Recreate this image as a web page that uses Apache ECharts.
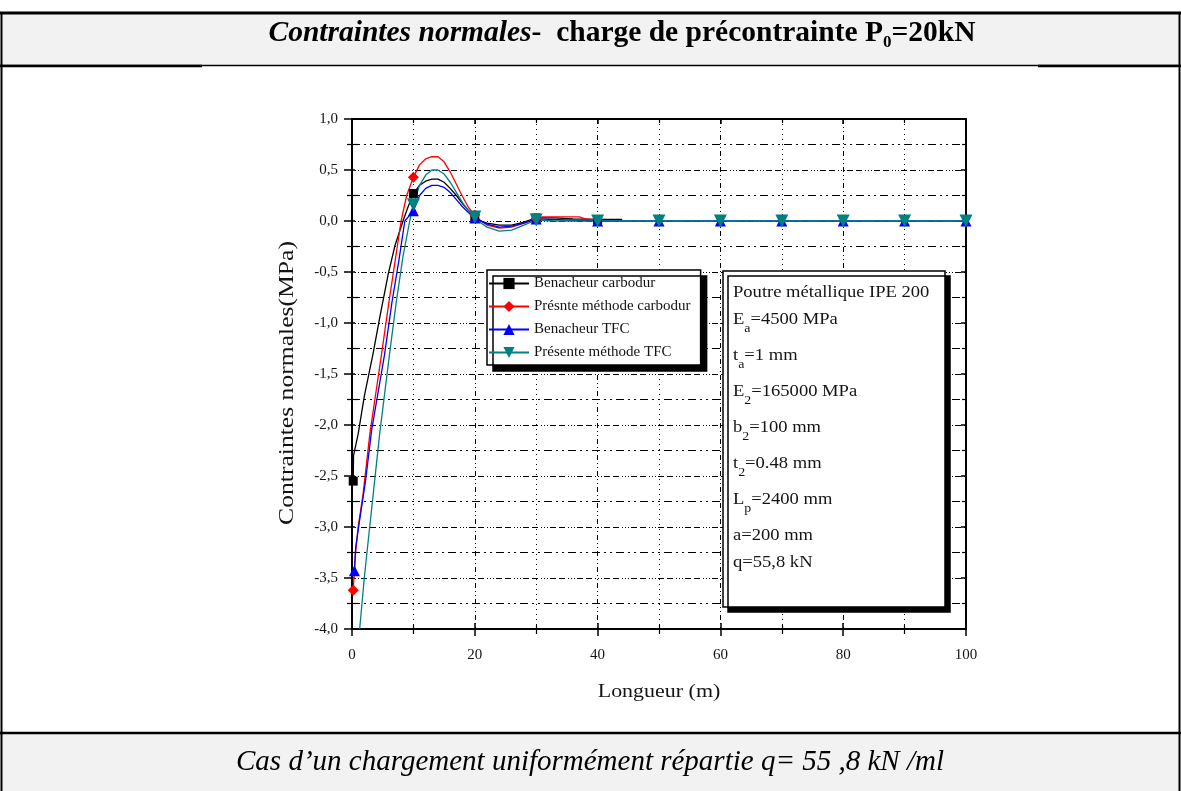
<!DOCTYPE html>
<html>
<head>
<meta charset="utf-8">
<script src="https://cdn.jsdelivr.net/npm/echarts@6.0.0/dist/echarts.min.js"></script>
<style>
  html, body { margin: 0; padding: 0; background: #fff; }
  #main { width: 1181px; height: 791px; }
</style>
</head>
<body>
<div id="main"></div>
<script>
// ---- data ----
const seriesNames = ['Benacheur carbodur', 'Présnte méthode carbodur', 'Benacheur TFC', 'Présente méthode TFC'];

// Benacheur carbodur
const blackX = [0.2, 0.25, 1.0, 2.0, 3.4, 4.6, 5.9, 7.0, 8.3, 9.2, 10, 11, 12, 13, 14, 15, 16, 17, 18, 19, 20, 21, 22, 24, 26, 28, 30, 33, 36, 40, 44];
const blackY = [-2.55, -2.3, -2.09, -1.72, -1.31, -0.92, -0.52, -0.24, 0.0, 0.15, 0.27, 0.35, 0.39, 0.41, 0.41, 0.38, 0.32, 0.25, 0.17, 0.10, 0.04, 0.0, -0.02, -0.04, -0.04, -0.01, 0.03, 0.03, 0.02, 0.015, 0.015];
const blackMarks = [0.2, 10, 20, 30, 40];

// Présente méthode carbodur
const redX = [0.2, 0.5, 1.0, 1.8, 2.9, 4.8, 6.0, 7.0, 8.0, 8.9, 10, 11, 12, 13, 14, 15, 16, 17, 18, 19, 20, 21, 22, 24, 26, 28, 30, 31, 37, 38, 40];
const redY = [-3.62, -3.3, -3.0, -2.68, -2.09, -1.31, -0.8, -0.4, 0.0, 0.25, 0.43, 0.55, 0.61, 0.63, 0.63, 0.58, 0.48, 0.36, 0.24, 0.13, 0.06, 0.0, -0.04, -0.07, -0.06, -0.02, 0.02, 0.04, 0.04, 0.02, 0.01];
const redMarks = [0.2, 10, 20, 30];

// Benacheur TFC
const blueX = [0.4, 0.6, 1.2, 2.2, 3.2, 5.3, 6.5, 7.6, 8.6, 10, 11, 12, 13, 14, 15, 16, 17, 18, 19, 20, 22, 24, 26, 28, 30, 35, 40, 50, 60, 70, 80, 90, 100];
const blueY = [-3.43, -3.2, -2.95, -2.55, -2.05, -1.31, -0.8, -0.4, 0.0, 0.10, 0.25, 0.32, 0.35, 0.35, 0.33, 0.28, 0.21, 0.14, 0.08, 0.03, -0.03, -0.06, -0.05, -0.02, 0.02, 0.01, 0.0, 0, 0, 0, 0, 0, 0];
const blueMarks = [0.4, 10, 20, 30, 40, 50, 60, 70, 80, 90, 100];

// Présente méthode TFC
const tealX = [1.25, 2.0, 2.7, 3.4, 4.5, 6.1, 7.2, 8.3, 9.4, 10, 11, 12, 13, 14, 15, 16, 17, 18, 19, 20, 21, 22, 24, 26, 28, 30, 33, 40, 50, 60, 70, 80, 90, 100];
const tealY = [-4.0, -3.5, -3.1, -2.71, -2.09, -1.31, -0.8, -0.35, 0.0, 0.16, 0.35, 0.45, 0.50, 0.50, 0.46, 0.38, 0.28, 0.18, 0.10, 0.04, -0.02, -0.06, -0.10, -0.09, -0.04, 0.01, 0.0, 0, 0, 0, 0, 0, 0, 0];
const tealMarks = [10, 20, 30, 40, 50, 60, 70, 80, 90, 100];

const titleText = '{it|Contraintes normales}{b|-  charge de précontrainte P}{sub|0}{b|=20kN}';
const captionText = 'Cas d’un chargement uniformément répartie q= 55 ,8 kN /ml';
const xAxisTitle = 'Longueur (m)';
const yAxisTitle = 'Contraintes normales(MPa)';

// "_x" marks a one-character subscript
const noteLines = [
  'Poutre métallique IPE 200',
  'E_a=4500 MPa',
  't_a=1 mm',
  'E_2=165000 MPa',
  'b_2=100 mm',
  't_2=0.48 mm',
  'L_p=2400 mm',
  'a=200 mm',
  'q=55,8 kN'
];

// ---- build ----
const SERIF = '"Liberation Serif", "Times New Roman", serif';
const INK = '#141414';

function pts(xs, ys, marks) {
  return xs.map((x, i) => {
    const item = { value: [x, ys[i]] };
    if (marks.indexOf(x) < 0) item.symbol = 'none';
    return item;
  });
}

function toRich(line) {
  const m = line.match(/^(.*?)_(.)(.*)$/);
  if (!m) return { text: '{m|' + line + '}', sub: false };
  return { text: '{m|' + m[1] + '}{s|' + m[2] + '}{m|' + m[3] + '}', sub: true };
}

const specs = [
  { x: blackX, y: blackY, marks: blackMarks, color: '#000000', symbol: 'rect', size: 9, rotate: 0 },
  { x: redX, y: redY, marks: redMarks, color: '#ff0000', symbol: 'diamond', size: 11, rotate: 0 },
  { x: blueX, y: blueY, marks: blueMarks, color: '#0000ff', symbol: 'triangle', size: 11, rotate: 0 },
  { x: tealX, y: tealY, marks: tealMarks, color: '#008080', symbol: 'triangle', size: 13, rotate: 180 }
];

const series = specs.map((s, i) => ({
  name: seriesNames[i],
  type: 'line',
  xAxisIndex: 0,
  yAxisIndex: 0,
  data: pts(s.x, s.y, s.marks),
  showSymbol: true,
  symbol: s.symbol,
  symbolSize: s.size,
  symbolRotate: s.rotate,
  lineStyle: { color: s.color, width: 1.3 },
  itemStyle: { color: s.color },
  animation: false,
  clip: true
}));

const dashMajorY = [1, 2, 1, 2, 1, 2, 6, 3, 6, 3];
const dashMinorY = [8, 4, 2, 4, 2, 4];
const dashMajorX = [5, 3, 1, 3, 1, 3];
const dashMinorX = [1, 4];

const gridBox = { left: 352, top: 119, width: 614, height: 510 };

const baseX = { type: 'value', min: 0, max: 100, interval: 20, gridIndex: 0 };
const baseY = { type: 'value', min: -4, max: 1, interval: 0.5, gridIndex: 0 };

const xAxes = [
  Object.assign({}, baseX, {
    position: 'bottom',
    axisLine: { show: true, onZero: false, lineStyle: { color: '#000', width: 2 } },
    axisTick: { show: true, inside: false, length: 7, lineStyle: { color: '#000', width: 1.5 } },
    minorTick: { show: true, splitNumber: 2, length: 5, lineStyle: { color: '#000', width: 1.2 } },
    axisLabel: { show: true, margin: 19, fontFamily: SERIF, fontSize: 15, color: INK },
    splitLine: { show: true, lineStyle: { color: '#000', width: 1, type: dashMajorX } },
    minorSplitLine: { show: true, lineStyle: { color: '#000', width: 1, type: dashMinorX } }
  }),
  Object.assign({}, baseX, {
    position: 'bottom',
    axisLine: { show: false, onZero: false },
    axisTick: { show: true, inside: true, length: 6, lineStyle: { color: '#000', width: 1.5 } },
    minorTick: { show: true, splitNumber: 2, length: 4, lineStyle: { color: '#000', width: 1.2 } },
    axisLabel: { show: false },
    splitLine: { show: false }
  }),
  Object.assign({}, baseX, {
    position: 'top',
    axisLine: { show: true, onZero: false, lineStyle: { color: '#000', width: 2 } },
    axisTick: { show: true, inside: true, length: 5, lineStyle: { color: '#000', width: 1.5 } },
    minorTick: { show: true, splitNumber: 2, length: 4, lineStyle: { color: '#000', width: 1.2 } },
    axisLabel: { show: false },
    splitLine: { show: false }
  })
];

const yAxes = [
  Object.assign({}, baseY, {
    position: 'left',
    axisLine: { show: true, onZero: false, lineStyle: { color: '#000', width: 2 } },
    axisTick: { show: true, inside: false, length: 8, lineStyle: { color: '#000', width: 1.5 } },
    minorTick: { show: true, splitNumber: 2, length: 5, lineStyle: { color: '#000', width: 1.2 } },
    axisLabel: {
      show: true, margin: 14, fontFamily: SERIF, fontSize: 15, color: INK,
      formatter: (v) => v.toFixed(1).replace('.', ',')
    },
    splitLine: { show: true, lineStyle: { color: '#000', width: 1, type: dashMajorY } },
    minorSplitLine: { show: true, lineStyle: { color: '#000', width: 1, type: dashMinorY } }
  }),
  Object.assign({}, baseY, {
    position: 'left',
    axisLine: { show: false, onZero: false },
    axisTick: { show: true, inside: true, length: 3, lineStyle: { color: '#000', width: 1.5 } },
    minorTick: { show: true, splitNumber: 2, length: 6, lineStyle: { color: '#000', width: 1.2 } },
    axisLabel: { show: false },
    splitLine: { show: false }
  }),
  Object.assign({}, baseY, {
    position: 'right',
    axisLine: { show: true, onZero: false, lineStyle: { color: '#000', width: 2 } },
    axisTick: { show: true, inside: true, length: 5, lineStyle: { color: '#000', width: 1.5 } },
    minorTick: { show: true, splitNumber: 2, length: 4, lineStyle: { color: '#000', width: 1.2 } },
    axisLabel: { show: false },
    splitLine: { show: false }
  })
];

// note box text, one element per line; the chart lettering is drawn slightly widened
const WIDE = 1.16;
const noteTop = 293, noteLeft = 733;
const noteTexts = [];
let yCursor = noteTop;
noteLines.forEach((ln) => {
  const r = toRich(ln);
  noteTexts.push({
    type: 'text', z: 101,
    x: noteLeft, y: yCursor, scaleX: WIDE,
    style: {
      text: r.text,
      verticalAlign: 'middle',
      rich: {
        m: { fontFamily: SERIF, fontSize: 16, lineHeight: 30, verticalAlign: 'middle', fill: INK },
        s: { fontFamily: SERIF, fontSize: 12, lineHeight: 17, verticalAlign: 'bottom', fill: INK }
      }
    }
  });
  yCursor += 27 + (r.sub ? 9 : 0);
});

const graphics = [
  // header band
  { type: 'rect', z: 1, shape: { x: 0, y: 13, width: 1181, height: 52 }, style: { fill: '#f2f2f2' } },
  // caption band
  { type: 'rect', z: 1, shape: { x: 0, y: 733, width: 1181, height: 58 }, style: { fill: '#f2f2f2' } },
  // table borders
  { type: 'line', z: 2, shape: { x1: 0, y1: 13, x2: 1181, y2: 13 }, style: { stroke: '#000', lineWidth: 3 } },
  { type: 'line', z: 2, shape: { x1: 0, y1: 65.5, x2: 1181, y2: 65.5 }, style: { stroke: '#000', lineWidth: 1.5 } },
  { type: 'line', z: 2, shape: { x1: 0, y1: 66, x2: 202, y2: 66 }, style: { stroke: '#000', lineWidth: 2.5 } },
  { type: 'line', z: 2, shape: { x1: 1038, y1: 66, x2: 1181, y2: 66 }, style: { stroke: '#000', lineWidth: 2.5 } },
  { type: 'line', z: 2, shape: { x1: 0, y1: 733, x2: 1181, y2: 733 }, style: { stroke: '#000', lineWidth: 2.5 } },
  { type: 'line', z: 2, shape: { x1: 1.5, y1: 12, x2: 1.5, y2: 791 }, style: { stroke: '#000', lineWidth: 2 } },
  { type: 'line', z: 2, shape: { x1: 1179.5, y1: 12, x2: 1179.5, y2: 791 }, style: { stroke: '#000', lineWidth: 2 } },
  // title
  {
    type: 'text', z: 3, x: 622, y: 33,
    style: {
      text: titleText,
      align: 'center', verticalAlign: 'middle',
      rich: {
        it: { fontFamily: SERIF, fontSize: 29.5, fontWeight: 'bold', fontStyle: 'italic', lineHeight: 36, verticalAlign: 'middle', fill: '#000' },
        b: { fontFamily: SERIF, fontSize: 29.5, fontWeight: 'bold', lineHeight: 36, verticalAlign: 'middle', fill: '#000' },
        sub: { fontFamily: SERIF, fontSize: 17, fontWeight: 'bold', lineHeight: 28, verticalAlign: 'bottom', fill: '#000' }
      }
    }
  },
  // caption
  {
    type: 'text', z: 3, x: 590, y: 762,
    style: {
      text: captionText,
      font: 'italic 29px ' + SERIF,
      fill: '#000',
      align: 'center', verticalAlign: 'middle'
    }
  },
  // axis titles
  {
    type: 'text', z: 3, x: 659, y: 692, scaleX: 1.22,
    style: { text: xAxisTitle, font: '18px ' + SERIF, fill: INK, align: 'center', verticalAlign: 'middle' }
  },
  {
    type: 'text', z: 3, x: 287, y: 383, rotation: Math.PI / 2, scaleX: 1.22,
    style: { text: yAxisTitle, font: '21px ' + SERIF, fill: INK, align: 'center', verticalAlign: 'middle' }
  },
  // note box
  {
    type: 'rect', z: 100,
    shape: { x: 723, y: 271, width: 222, height: 336 },
    style: { fill: '#fff', stroke: '#000', lineWidth: 1.5, shadowColor: '#000', shadowOffsetX: 5, shadowOffsetY: 5, shadowBlur: 0 }
  }
].concat(noteTexts);

const chart = echarts.init(document.getElementById('main'), null, { renderer: 'canvas' });
chart.setOption({
  animation: false,
  backgroundColor: '#ffffff',
  grid: [gridBox],
  xAxis: xAxes,
  yAxis: yAxes,
  legend: {
    data: seriesNames,
    orient: 'vertical',
    left: 487, top: 270,
    backgroundColor: '#fff',
    borderColor: '#000', borderWidth: 1.5, borderRadius: 0,
    padding: [6, 10, 5, 1],
    itemWidth: 40, itemHeight: 14, itemGap: 8,
    shadowColor: '#000', shadowOffsetX: 6, shadowOffsetY: 6, shadowBlur: 0,
    textStyle: { fontFamily: SERIF, fontSize: 15, color: INK },
    selectedMode: false
  },
  graphic: graphics,
  series: series
});
</script>
</body>
</html>
